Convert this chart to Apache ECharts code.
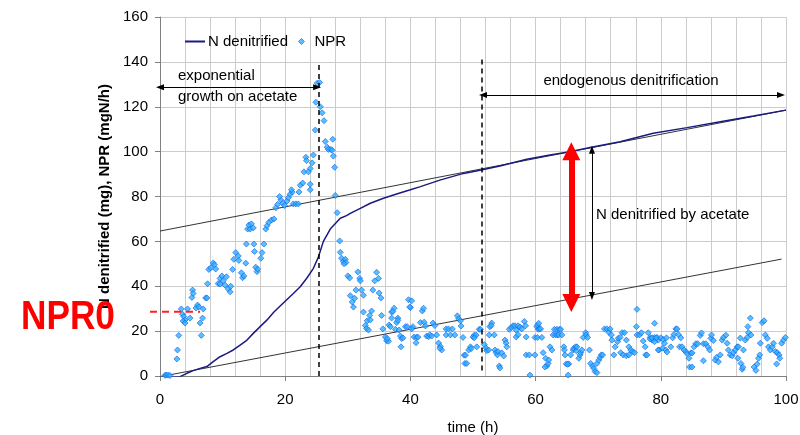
<!DOCTYPE html>
<html>
<head>
<meta charset="utf-8">
<script src="https://cdn.jsdelivr.net/npm/echarts@6/dist/echarts.min.js"></script>
<style>html,body{margin:0;padding:0;background:#fff}#c{width:800px;height:435px}</style>
</head>
<body>
<div id="c"></div>
<script>
// ---- data ----
const nDenitrified = [[1.5,-0.5],[2.1,-0.6],[3.2,-0.3],[4.3,1.2],[5.3,2.4],[6.4,3.4],[7.5,4.2],[8.5,6.4],[9.6,8.6],[10.7,10.1],[11.7,11.6],[12.8,13.8],[13.9,16],[14.9,19],[16.0,22],[17.1,25],[18.2,28.5],[19.2,31.2],[20.2,33.9],[21.3,36.8],[22.4,39.8],[23.5,43.8],[24.5,48],[25.3,53],[26.1,60],[27.2,65.5],[28.2,68.5],[28.8,70.3],[29.8,71.5],[30.4,72.5],[32,74.7],[33.6,77],[35.7,79.2],[37.8,81.1],[40,83],[41.6,84.4],[44.7,87.3],[48.5,90.3],[51.3,91.8],[54.3,93.6],[58.6,96.6],[62.3,98.5],[65.5,100],[68.7,101.8],[73.5,104.4],[78.8,108.2],[84.2,110.7],[89.5,113.3],[94.8,115.9],[100,118.5]];

const npr = [[0.8,0.3],[1.0,0.4],[1.3,0.4],[1.6,0.2],
[2.7,7.6],[2.8,11.6],[3.0,18.1],[3.4,29.9],[3.6,27.5],[3.8,26.5],[4.0,25],[3.7,24.5],[4.0,23.6],[4.4,29.9],[4.8,25.8],[5.1,35],[5.2,38.3],[5.3,36.8],[5.75,30.3],[6.0,31.6],[6.2,30.8],[6.4,23.6],[6.6,18.1],[6.8,25.8],[6.9,29.9],[7.3,34.8],[7.5,34.8],[7.6,41.1],[7.8,47.5],[8.1,48.2],[8.5,50.4],[8.7,49.6],[8.9,47.7],[9.3,41.2],[9.6,43.5],[9.9,44.6],[9.6,41],[10.1,42.5],[10.4,40.5],[10.6,44.2],[10.9,38.8],[11.2,37.5],[11.3,40],[11.6,47.5],[11.8,52],[12.1,55],[12.5,53.5],[12.6,51.5],[13.0,46],[13.2,43.8],[13.4,44.6],[13.7,50.3],[13.8,58.8],[14.0,65.5],[14.2,67.3],[14.4,65.5],[14.6,67.8],[14.9,66],[15.0,58.8],[15.1,55.5],[15.3,48.5],[15.5,46.5],[15.6,47.6],[16.1,52.5],[16.3,55],[16.6,58.8],[16.9,65.5],[17.1,67],[17.4,68.5],[17.8,69.5],[18.2,70],
[18.5,75],[18.8,76.5],[19.3,78.5],[19.1,80],[19.6,77],[19.9,76],[20.3,78],[20.5,79.5],[20.8,81],[21.1,82],[21.0,83],[21.3,76.7],[21.7,76.7],[22.1,76.7],[22.2,82],[22.4,85],[22.8,86],[23.0,91],[23.3,97.5],[23.4,96],[23.7,91],[24.0,92.5],[24.3,95],[24.5,98.5],[24.0,83],[24.0,85.5],[24.8,109.6],[24.9,122],[25.1,130.5],[25.5,130.8],[25.6,120],[25.9,117.3],[26.2,113.8],[26.4,104.5],[26.7,102],[26.9,101],[27.3,101],[27.6,105.5],[27.5,100.6],[27.7,98],[27.9,93],[28.0,80.5],[28.3,72.8],
[28.7,60.2],[28.8,55.1],[29.0,52.5],[29.3,51],[29.6,52],[29.7,50.6],[29.4,50],[30.0,44.6],[30.3,43.7],[30.4,35.8],[30.7,33],[30.9,30.7],[31.1,34.6],[31.3,38.3],[31.6,46.4],[31.9,43.5],[32.0,42.4],[32.2,38.3],[32.5,36],[32.5,28.5],[32.8,22.5],[33.0,21.2],[33.1,24.6],[33.3,20.5],[33.5,27],[33.8,29],[33.6,25],[34.0,38.3],[34.3,42.4],[34.6,46.2],[34.9,43.5],[35.0,37],[35.3,34.8],[35.4,27],[35.6,21],[36.0,17.4],[36.2,15.7],[36.5,15.5],[36.3,16.7],[36.6,22.7],[36.8,22],[37.0,28.5],[37.4,30.2],[37.2,28.8],[37.0,25.8],[38.0,25.8],[37.8,23.8],[38.0,24.8],[37.6,20.8],[38.2,20.5],[38.4,17.8],[38.6,16.7],[38.5,13],[38.8,17],[39.2,22],[39.5,22],[39.7,34],[40.0,30.5],[40.2,33.5],[39.9,30.8],[40.4,22],[40.6,17.4],[40.9,14.8],[41.0,17.3],[41.2,17.3],
[40.2,21],[41.6,23.8],[41.9,29],[42.1,30.2],[42.2,24],[42.4,22.3],[42.6,17.8],[42.9,17.5],[43.1,18.4],[43.4,17.8],[43.6,23.6],[43.9,22.5],[44.2,18.3],[44.5,14.7],[44.8,13.2],[45.0,11.6],[44.7,12.4],[45.7,18.3],[45.7,21],[46.1,21],[46.4,18.3],[46.7,21],[47.1,18.3],[47.5,26.8],[47.7,25.5],[48.0,24.6],[48.1,22.3],[48.4,17.2],[48.6,9.3],[48.8,9.3],[48.7,5.6],[49.0,5.6],[49.3,11.6],[49.6,13],[49.7,12.2],[50.0,17.4],[50.2,18.2],[50.5,18.2],[50.2,17],[50.6,13],[51.0,20.8],[51.2,20.8],[51.8,14],[52.1,12.4],[52.2,11.3],[52.5,11.6],[52.6,18.3],[52.7,22],[53.0,23.6],[52.9,22.5],[53.4,18.3],[53.5,11.6],[53.7,10.4],[53.9,9.4],[54.0,10.9],[54.2,4.5],[54.3,3.6],[54.6,10.3],[54.9,8.9],[55.1,16],[55.3,14.7],[55.4,13],[55.8,20.8],[56.1,21.6],[56.4,22.4],[56.7,22.4],[57.2,22.4],[56.9,20.4],[57.5,21.8],[58.2,24.3],[58.4,22.4],[57.8,21],[56.9,17.4],[57.2,18.4],[58.5,17.4],[58.5,9.4],[59.1,0.4],[59.0,9.4],[59.9,9.4],[60.2,22],[60.4,20.8],
[59.9,17.2],[60.3,17.2],[61.0,17.2],[60.3,22.7],[60.6,21],[60.5,23.5],[60.8,21],[61.2,10.4],[61.6,7.9],[61.8,4.5],[61.5,4],[62.0,5.6],[62.1,7.1],[62.3,13],[62.6,11.6],[62.8,18.3],[63.2,18.3],[63.5,18.3],[63.7,18.3],[64.2,18.3],[63.0,20.8],[63.4,20.8],[63.8,20.8],[64.0,20.8],[64.5,13],[64.6,11.6],[64.7,9.4],[64.9,5.4],[65.3,5.4],[65.1,5.2],[65.2,0.4],[65.6,9.4],[66.0,11.6],[66.1,12.3],[66.4,13],[66.5,11.2],[66.6,13],[66.9,7.9],[67.1,9.4],[67.2,10.4],[67.4,11.6],[67.6,17.2],[68.0,19.3],[68.1,18.3],[68.3,17.2],[68.6,11.6],[68.8,5.6],[69.1,4.4],[69.3,3.4],[69.5,2],[69.8,1.5],[69.8,5.6],[70.1,7.1],[70.3,8.3],[70.5,9.4],[70.7,9.4],[71.0,21],[71.4,21],[71.7,19.5],[71.9,21],[72.1,18.3],[72.2,16],[72.5,9.4],[72.7,13],[73.1,15.3],[73.2,16.8],[73.5,17.2],[73.8,19.3],[74.2,19.3],[73.6,10.4],[74.0,9.4],[74.5,9],[74.9,9.4],[74.5,16],[74.9,13],[75.2,11.6],[75.5,10.9],[75.8,10.4],[76.2,29.7],[76.1,22],[76.2,18.3],[76.6,18.3],[76.9,19.3],[77.2,15.6],[77.5,13],[77.6,9.4],[77.8,9.4],[78.0,19.3],[78.3,17.2],[78.6,16],[79.0,17.2],[79.4,17.2],[79.6,16],[79.0,15.3],[79.7,11.6],
[79.0,23.5],[78.3,16.5],[78.6,17],[79.3,17],[80.0,17],[80.4,16.3],[80.6,14.6],[80.9,17],[79.6,11.6],[80.3,12.4],[80.8,11.6],[81.0,10.7],[81.6,13],[81.9,17],[82.1,18.5],[82.4,21],[82.6,21],[82.8,18.5],[83.2,17],[83.0,13],[83.4,13],[83.7,11.6],[84.0,10.9],[84.2,10],[84.5,7.9],[84.8,10.3],[85.0,10.3],[84.6,4],[85.0,4],[85.3,13],[85.6,14.4],[85.9,14.4],[86.3,18.1],[86.5,19.2],[86.8,14.4],[87.2,14.4],[87.5,13],[87.8,11.6],[88.0,16.8],[88.1,18.3],[88.4,15.8],[86.8,6.8],[88.7,7.1],[88.9,8.3],[89.2,6.3],[89.5,9.4],[89.8,16],[90.0,17.2],[90.4,18.2],[90.6,14.6],[90.8,11.6],[91.1,9.4],[91.4,9],[91.6,10.4],[91.9,11.6],[92.2,13],[92.4,13],[92.3,7.9],[92.7,16.9],[93.2,11.6],[92.8,5.6],[93.0,3],[93.1,3.9],[93.5,16],[93.8,17.2],[94.0,19.3],[93.9,22],[94.3,25.8],[94.4,18.3],[94.9,4],[95.2,2.5],[95.4,5.3],[95.6,7.9],[95.8,9.4],[95.9,14.6],[96.2,23.8],[96.5,24.6],[96.7,18.3],[97.0,16.8],[97.2,13],[97.5,11.6],[97.8,13],[98.0,14.6],[98.3,10.9],[98.6,10.4],[98.9,9.4],[99.0,7.9],[98.5,5.4],[99.3,14.6],[99.6,16],[99.9,17.2]];

const upperFit = [[0,64.6],[100,118.5]];
const lowerFit = [[0,-0.3],[99.3,52.1]];
const dashedTimes = [25.3, 51.4];
const dashedSpans = [[0,140],[2.5,141.3]];
const expArrow = [[0,128.7],[25.1,128.7]];
const endoArrow = [[51.6,125.2],[99.2,125.2]];
const acetArrow = [[69.0,100.8],[69.0,35.6]];
const redArrow = [[65.7,100.2],[65.7,32.5]];
const npr0Line = [[-1.6,28.6],[6.4,28.6]];

const FONT = "'Liberation Sans', Arial, sans-serif";
const chart = echarts.init(document.getElementById('c'), null, {renderer:'canvas'});

function ml(pair, style, sym, symSize){
  return [{coord: pair[0], symbol: sym[0], symbolSize: symSize, lineStyle: style},
          {coord: pair[1], symbol: sym[1], symbolSize: symSize}];
}
const blackThin = {color:'#000', width:1, type:'solid'};
const dashStyle = {color:'#000', width:1.5, type:[5,4]};

chart.setOption({
  animation:false,
  backgroundColor:'#fff',
  textStyle:{fontFamily:FONT},
  grid:{left:160, right:14, top:17, bottom:59, show:false, containLabel:false, outerBoundsMode:'none'},
  legend:{
    data:[
      {name:'N denitrified', icon:'path://M0,0 L40,0 L40,4 L0,4 Z'},
      {name:'NPR', icon:'path://M5,0 L10,5 L5,10 L0,5 Z', itemStyle:{borderColor:'#1060e8', borderWidth:0.8}}
    ],
    left:180, top:29, itemWidth:20, itemHeight:6, itemGap:10, symbolKeepAspect:true,
    textStyle:{fontSize:15, color:'#000', fontFamily:FONT, padding:[0,0,0,-2]}, selectedMode:false
  },
  xAxis:{
    type:'value', min:0, max:100, interval:20,
    name:'time (h)', nameLocation:'middle', nameGap:44,
    nameTextStyle:{fontSize:15, color:'#000', fontFamily:FONT},
    axisLine:{show:true, lineStyle:{color:'#808080'}},
    axisTick:{show:true, length:5, lineStyle:{color:'#808080'}},
    axisLabel:{fontSize:15, color:'#000', margin:16, fontFamily:FONT},
    splitLine:{show:true, lineStyle:{color:'#cccccc'}},
    minorTick:{show:false, splitNumber:5},
    minorSplitLine:{show:true, lineStyle:{color:'#cccccc'}}
  },
  yAxis:{
    type:'value', min:0, max:160, interval:20,
    name:'N denitrified (mg), NPR (mgN/h)', nameLocation:'middle', nameGap:47,
    nameTextStyle:{fontSize:15, fontWeight:'bold', color:'#000', fontFamily:FONT},
    axisLine:{show:true, lineStyle:{color:'#808080'}},
    axisTick:{show:true, length:5, lineStyle:{color:'#808080'}},
    axisLabel:{fontSize:15, color:'#000', margin:12, fontFamily:FONT},
    splitLine:{show:true, lineStyle:{color:'#cccccc'}}
  },
  series:[
    {name:'fitUpper', type:'line', data:upperFit, symbol:'none', silent:true,
     lineStyle:{color:'#333', width:1}, z:2},
    {name:'fitLower', type:'line', data:lowerFit, symbol:'none', silent:true,
     lineStyle:{color:'#333', width:1}, z:2,
     markLine:{silent:true, label:{show:false}, animation:false,
       data:[
         ml([[dashedTimes[0],dashedSpans[0][0]],[dashedTimes[0],dashedSpans[0][1]]], dashStyle, ['none','none'], 0),
         ml([[dashedTimes[1],dashedSpans[1][0]],[dashedTimes[1],dashedSpans[1][1]]], dashStyle, ['none','none'], 0),
         ml(expArrow, blackThin, ['triangle','triangle'], [6,8]),
         ml(endoArrow, blackThin, ['triangle','triangle'], [6,8]),
         ml(acetArrow, blackThin, ['triangle','triangle'], [6,8])
       ]}
    },
    {name:'NPR', type:'scatter', data:npr, symbol:'diamond', symbolSize:6, z:4,
     itemStyle:{color:'#2fb0ff', borderColor:'#1060e8', borderWidth:0.8}},
    {name:'N denitrified', type:'line', data:nDenitrified, symbol:'none', z:3,
     color:'#1a1a80', lineStyle:{color:'#1a1a80', width:1.5},
     markLine:{silent:true, label:{show:false}, animation:false, z:6,
       data:[ ml(redArrow, {color:'#ff0000', width:6, type:'solid'}, ['triangle','triangle'], [18,18]) ]}
    }
  ]
});

// annotations placed from data-space anchors
const p0 = chart.convertToPixel({gridIndex:0}, npr0Line[0]);
const p1 = chart.convertToPixel({gridIndex:0}, npr0Line[1]);
chart.setOption({
  graphic:[
    {type:'line', shape:{x1:p0[0], y1:p0[1], x2:p1[0], y2:p1[1]}, z:10,
     style:{stroke:'#ff2020', lineWidth:2, lineDash:[7,5]}},
    {type:'text', x:21, y:318, scaleX:0.88, z:10,
     style:{text:'NPR0', font:"bold 40px 'Liberation Sans', Arial, sans-serif", fill:'#ff0000', verticalAlign:'middle'}},
    {type:'text', x:178, y:76, z:10,
     style:{text:'exponential', font:"15px 'Liberation Sans', Arial, sans-serif", fill:'#000', verticalAlign:'middle'}},
    {type:'text', x:178, y:97, z:10,
     style:{text:'growth on acetate', font:"15px 'Liberation Sans', Arial, sans-serif", fill:'#000', verticalAlign:'middle'}},
    {type:'text', x:631, y:81, z:10,
     style:{text:'endogenous denitrification', font:"15px 'Liberation Sans', Arial, sans-serif", fill:'#000', align:'center', verticalAlign:'middle'}},
    {type:'text', x:596, y:215, z:10,
     style:{text:'N denitrified by acetate', font:"15px 'Liberation Sans', Arial, sans-serif", fill:'#000', verticalAlign:'middle'}}
  ]
});
</script>
</body>
</html>
